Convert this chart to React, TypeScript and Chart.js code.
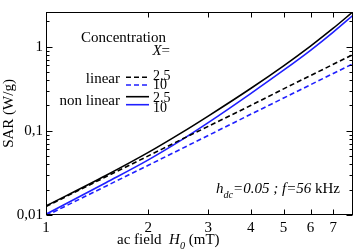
import React, { useEffect, useRef } from 'react';
import { Chart, registerables } from 'chart.js';

Chart.register(...registerables);

// ---- data ----
const fieldH = [1, 1.5, 2, 2.5, 3, 4, 5, 6, 7, 8];
const linear25 = [0.0126, 0.0284, 0.0504, 0.0788, 0.113, 0.2, 0.315, 0.454, 0.617, 0.806];
const linear10 = [0.0098, 0.022, 0.039, 0.061, 0.088, 0.157, 0.245, 0.353, 0.48, 0.627];
const nonlinear25 = [0.0128, 0.0295, 0.0554, 0.0945, 0.1497, 0.3185, 0.592, 1.016, 1.655, 2.6];
const nonlinear10 = [0.0102, 0.0242, 0.0452, 0.0775, 0.125, 0.277, 0.525, 0.905, 1.49, 2.36];

const xTicks = [1, 2, 3, 4, 5, 6, 7];
const yTicks = [0.01, 0.1, 1];
const yTickLabels = ['0,01', '0,1', '1'];
const xRange = [1, 8];
const yRange = [0.01, 2.58];

const SERIF = "'Liberation Serif', 'Times New Roman', serif";
const BLUE = '#1f1fff';
const BLACK = '#000000';

type Seg = { t: string; it?: boolean; sub?: boolean; size?: number };

function drawRich(ctx: CanvasRenderingContext2D, x: number, y: number, segs: Seg[], align: 'left' | 'right', base = 15) {
  const fontOf = (s: Seg) => `${s.it ? 'italic ' : ''}${s.size ?? (s.sub ? base * 0.68 : base)}px ${SERIF}`;
  let total = 0;
  const widths = segs.map((s) => {
    ctx.font = fontOf(s);
    const w = ctx.measureText(s.t).width;
    total += w;
    return w;
  });
  let cx = align === 'right' ? x - total : x;
  ctx.textAlign = 'left';
  ctx.textBaseline = 'alphabetic';
  segs.forEach((s, i) => {
    ctx.font = fontOf(s);
    ctx.fillText(s.t, cx, s.sub ? y + 5 : y);
    cx += widths[i];
  });
}

const decorPlugin = {
  id: 'decor',
  afterDraw(chart: any) {
    const { ctx, chartArea: a, scales } = chart;
    const xs = scales.x;
    const ys = scales.y;
    ctx.save();
    ctx.strokeStyle = '#000';
    ctx.lineWidth = 1;
    ctx.setLineDash([]);
    const L = Math.round(a.left) + 0.5;
    const R = Math.round(a.right) - 0.5;
    const T = Math.round(a.top) + 0.5;
    const B = Math.round(a.bottom) - 0.5;
    ctx.strokeRect(L, T, R - L, B - T);
    ctx.beginPath();
    for (const v of xTicks) {
      const px = Math.round(xs.getPixelForValue(v)) + 0.5;
      ctx.moveTo(px, B);
      ctx.lineTo(px, B - 5);
      ctx.moveTo(px, T);
      ctx.lineTo(px, T + 5);
    }
    for (let d = -2; d <= 0; d++) {
      for (let m = 1; m <= 9; m++) {
        const v = m * Math.pow(10, d);
        if (v < ys.min || v > ys.max) continue;
        const py = Math.round(ys.getPixelForValue(v)) + 0.5;
        const len = m === 1 ? 6 : 3;
        ctx.moveTo(L, py);
        ctx.lineTo(L + len, py);
        ctx.moveTo(R, py);
        ctx.lineTo(R - len, py);
      }
    }
    ctx.stroke();

    ctx.fillStyle = '#000';
    // y title
    ctx.save();
    ctx.translate(9, (a.top + a.bottom) / 2);
    ctx.rotate(-Math.PI / 2);
    ctx.font = `15px ${SERIF}`;
    ctx.textAlign = 'center';
    ctx.textBaseline = 'middle';
    ctx.fillText('SAR (W/g)', 0, 0);
    ctx.restore();

    // x title
    drawRich(ctx, 117, 244, [
      { t: 'ac field  ' },
      { t: 'H', it: true },
      { t: '0', it: true, sub: true },
      { t: ' (mT)' },
    ], 'left');

    // legend
    drawRich(ctx, 166, 41.5, [{ t: 'Concentration' }], 'right');
    drawRich(ctx, 170, 55, [{ t: 'X', it: true }, { t: '=' }], 'right');
    drawRich(ctx, 120, 83, [{ t: 'linear' }], 'right');
    drawRich(ctx, 120, 105, [{ t: 'non linear' }], 'right');
    const items = [
      { y: 77.3, color: BLACK, dash: [5, 3], label: '2.5', by: 79.5 },
      { y: 85, color: BLUE, dash: [5, 3], label: '10', by: 88.5 },
      { y: 96.7, color: BLACK, dash: [], label: '2.5', by: 101.5 },
      { y: 104.7, color: BLUE, dash: [], label: '10', by: 111.5 },
    ];
    for (const it of items) {
      ctx.strokeStyle = it.color;
      ctx.lineWidth = 1.6;
      ctx.setLineDash(it.dash);
      ctx.beginPath();
      ctx.moveTo(126, it.y);
      ctx.lineTo(149, it.y);
      ctx.stroke();
      ctx.setLineDash([]);
      ctx.fillStyle = '#000';
      drawRich(ctx, 153, it.by, [{ t: it.label, size: 14 }], 'left');
    }

    // annotation
    drawRich(ctx, 340, 193, [
      { t: 'h', it: true },
      { t: 'dc', it: true, sub: true },
      { t: '=0.05 ; ', it: true },
      { t: 'f', it: true },
      { t: '=56', it: true },
      { t: ' kHz' },
    ], 'right');
    ctx.restore();
  },
};

export default function App() {
  const ref = useRef<HTMLCanvasElement | null>(null);
  useEffect(() => {
    document.body.style.margin = '0';
    const canvas = ref.current!;
    const mk = (label: string, data: number[], color: string, dash: number[]) => ({
      label,
      data: fieldH.map((h, i) => ({ x: h, y: data[i] })),
      borderColor: color,
      backgroundColor: color,
      borderWidth: 1.6,
      borderDash: dash,
      pointRadius: 0,
      fill: false,
      cubicInterpolationMode: 'monotone' as const,
    });
    const chart = new Chart(canvas, {
      type: 'line',
      data: {
        datasets: [
          mk('linear 2.5', linear25, BLACK, [5, 3]),
          mk('linear 10', linear10, BLUE, [5, 3]),
          mk('non linear 2.5', nonlinear25, BLACK, []),
          mk('non linear 10', nonlinear10, BLUE, []),
        ],
      },
      options: {
        responsive: false,
        animation: false,
        devicePixelRatio: 1,
        layout: { padding: { top: 1, right: 1, left: 0, bottom: 0 } },
        plugins: { legend: { display: false }, tooltip: { enabled: false }, title: { display: false } },
        scales: {
          x: {
            type: 'logarithmic',
            min: xRange[0],
            max: xRange[1],
            grid: { display: false, drawTicks: false },
            border: { display: false },
            afterBuildTicks: (s: any) => { s.ticks = xTicks.map((v) => ({ value: v })); },
            afterFit: (s: any) => { s.height = 36; },
            ticks: {
              autoSkip: false,
              maxRotation: 0,
              padding: 4,
              color: '#000',
              font: { family: SERIF, size: 15 },
              callback: (v: any) => String(v),
            },
          },
          y: {
            type: 'logarithmic',
            min: yRange[0],
            max: yRange[1],
            grid: { display: false, drawTicks: false },
            border: { display: false },
            afterBuildTicks: (s: any) => { s.ticks = yTicks.map((v) => ({ value: v })); },
            afterFit: (s: any) => { s.width = 46; },
            ticks: {
              autoSkip: false,
              padding: 3,
              color: '#000',
              font: { family: SERIF, size: 15 },
              callback: (v: any) => yTickLabels[yTicks.indexOf(Number(v))] ?? '',
            },
          },
        },
      },
      plugins: [decorPlugin],
    } as any);
    return () => chart.destroy();
  }, []);
  return (
    <div style={{ position: 'fixed', left: 0, top: 0, width: 354, height: 251 }}>
      <canvas ref={ref} width={354} height={251} style={{ width: 354, height: 251, display: 'block' }} />
    </div>
  );
}
